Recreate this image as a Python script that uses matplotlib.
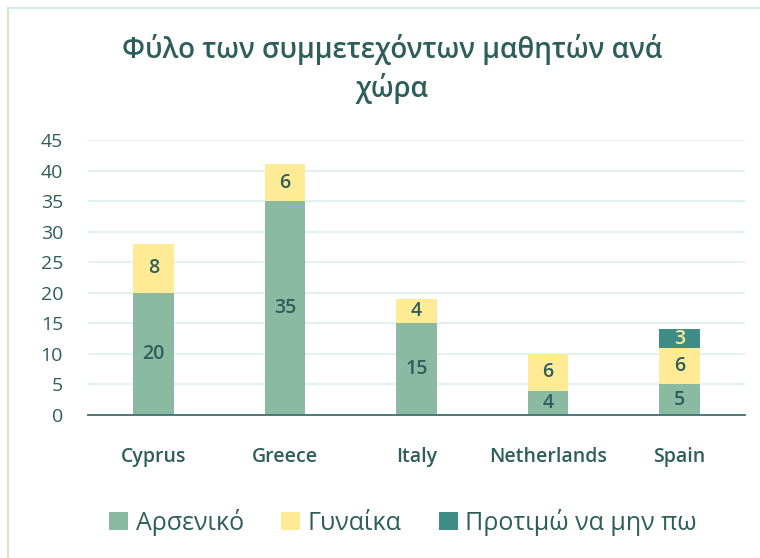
import matplotlib
matplotlib.use("Agg")
import matplotlib.pyplot as plt
import numpy as np

# data
countries = ["Cyprus", "Greece", "Italy", "Netherlands", "Spain"]
male = [20, 35, 15, 4, 5]
female = [8, 6, 4, 6, 6]
no_say = [0, 0, 0, 0, 3]
series_names = ["Αρσενικό", "Γυναίκα", "Προτιμώ να μην πω"]

c_male = "#8BBAA2"
c_female = "#FFEB96"
c_nosay = "#3E8C86"
txt = "#2E5E5B"

plt.rcParams["font.family"] = ["Open Sans", "DejaVu Sans"]

fig = plt.figure(figsize=(7.6, 5.58), dpi=100)
ax = fig.add_axes([88 / 760, 1 - 415 / 558, (745 - 88) / 760, 275 / 558])

x = np.arange(len(countries))
w = 0.31
b1 = ax.bar(x, male, w, color=c_male, label=series_names[0], zorder=2)
b2 = ax.bar(x, female, w, bottom=male, color=c_female, label=series_names[1], zorder=2)
bottom3 = [m + f for m, f in zip(male, female)]
b3 = ax.bar(x, no_say, w, bottom=bottom3, color=c_nosay, label=series_names[2], zorder=2)

for bars, vals, col in [(b1, male, txt), (b2, female, txt), (b3, no_say, c_female)]:
    for rect, v in zip(bars, vals):
        if v == 0:
            continue
        ax.text(rect.get_x() + rect.get_width() / 2, rect.get_y() + rect.get_height() / 2,
                str(v), ha="center", va="center", color=col, fontsize=14,
                fontweight="semibold", zorder=3)

ax.set_xlim(-0.5, len(countries) - 0.5)
ax.set_ylim(0, 45)
ax.set_yticks(range(0, 46, 5))
ax.set_xticks(x)
ax.set_xticklabels(countries)
ax.tick_params(axis="both", length=0, colors=txt)
ax.tick_params(axis="x", pad=23, labelsize=14)
ax.tick_params(axis="y", pad=18, labelsize=14)
for lab in ax.get_yticklabels():
    lab.set_horizontalalignment("right")
    lab.set_fontweight("medium")
for lab in ax.get_xticklabels():
    lab.set_fontweight("semibold")
ax.grid(axis="y", color="#DCEEEF", linewidth=1.2, zorder=0)
for s in ["top", "right", "left"]:
    ax.spines[s].set_visible(False)
ax.spines["bottom"].set_color("#3F6F6C")
ax.spines["bottom"].set_linewidth(1.3)

fig.text(392 / 760, 1 - 69 / 558, "Φύλο των συμμετεχόντων μαθητών ανά\nχώρα",
         ha="center", va="center", fontsize=20, color=txt, fontweight="semibold",
         linespacing=1.3)

fig.legend(handles=[b1, b2, b3], labels=series_names, loc="center",
           bbox_to_anchor=(403 / 760, 1 - 522 / 558), ncol=3, frameon=False,
           fontsize=18, labelcolor=txt, handlelength=0.75, handleheight=0.75,
           handletextpad=0.3, columnspacing=1.5)

# chart frame
fig.add_artist(plt.Line2D([8 / 760, 8 / 760], [0, 1 - 8 / 558], transform=fig.transFigure,
                          color="#D8E6BE", linewidth=1.5))
fig.add_artist(plt.Line2D([8 / 760, 1], [1 - 8 / 558, 1 - 8 / 558], transform=fig.transFigure,
                          color="#D5ECEE", linewidth=1.5))

fig.savefig("out.png", dpi=100)
